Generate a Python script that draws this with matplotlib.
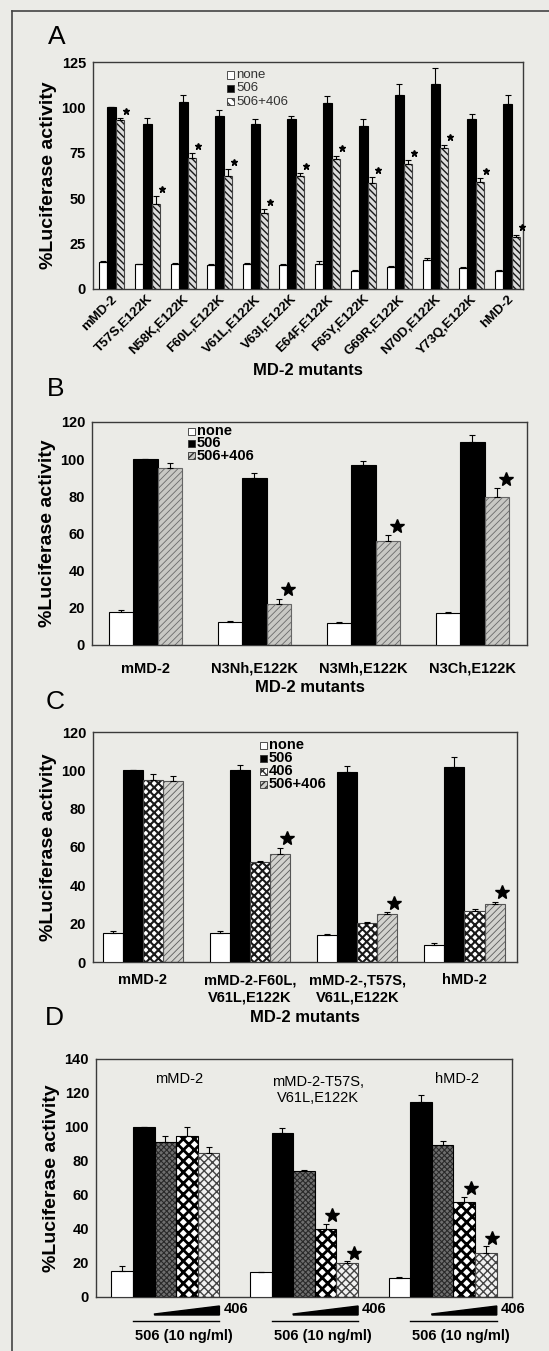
import numpy as np
import matplotlib
matplotlib.use('Agg')
import matplotlib.pyplot as plt
from matplotlib.patches import Rectangle, Polygon
from matplotlib.lines import Line2D

plt.rcParams['font.family'] = ['Liberation Sans', 'DejaVu Sans']
plt.rcParams['font.weight'] = 'bold'
plt.rcParams['axes.labelweight'] = 'bold'

# panel A: single point mutants
a_labels = ['mMD-2', 'T57S,E122K', 'N58K,E122K', 'F60L,E122K', 'V61L,E122K',
            'V63I,E122K', 'E64F,E122K', 'F65Y,E122K', 'G69R,E122K',
            'N70D,E122K', 'Y73Q,E122K', 'hMD-2']
a_none = [15, 13.5, 14, 13, 14, 13, 14, 10, 12, 16, 11.5, 10]
a_none_err = [0.5, 0.5, 0.5, 0.5, 0.5, 0.5, 1.5, 0.5, 0.5, 1, 0.5, 0.5]
a_506 = [100, 91, 103, 95.5, 91, 93.5, 102.5, 90, 107, 113, 93.5, 102]
a_506_err = [0, 3, 4, 3, 2.5, 2, 4, 3.5, 6, 8.5, 2.7, 5]
a_mix = [93, 47, 72, 62, 42, 62, 71.5, 58.5, 69, 77.5, 59, 28.5]
a_mix_err = [1, 4, 3, 4, 2, 2, 2, 3, 2, 2, 2, 1.5]

# panel B: chimeras
b_labels = ['mMD-2', 'N3Nh,E122K', 'N3Mh,E122K', 'N3Ch,E122K']
b_none = [18, 12.5, 12, 17]
b_none_err = [0.8, 0.6, 0.5, 0.5]
b_506 = [100, 90, 97, 109]
b_506_err = [0, 2.8, 2, 4]
b_mix = [95, 22, 56, 79.5]
b_mix_err = [3, 3, 3, 5]
b_star = [False, True, True, True]

# panel C: triple mutants
c_labels = ['mMD-2', 'mMD-2-F60L,\nV61L,E122K', 'mMD-2-,T57S,\nV61L,E122K', 'hMD-2']
c_none = [15, 15, 14, 9]
c_none_err = [1, 1, 0.5, 1]
c_506 = [100, 100, 99, 102]
c_506_err = [0, 3, 3.5, 5]
c_406 = [95, 52, 20.5, 26.5]
c_406_err = [3, 0.5, 0.5, 1]
c_mix = [94.5, 56.5, 25, 30.5]
c_mix_err = [2.5, 3, 1, 1]
c_star = [False, True, True, True]

# panel D: 406 titration
d_groups = ['mMD-2', 'mMD-2-T57S,\nV61L,E122K', 'hMD-2']
d_none = [15.5, 14.5, 11]
d_none_err = [2.5, 0.5, 0.5]
d_506 = [100, 96.5, 115]
d_506_err = [0, 3, 4]
d_low = [91, 74, 89.5]
d_low_err = [3.5, 0.8, 2.5]
d_mid = [94.5, 40, 56]
d_mid_err = [5.5, 3, 3]
d_high = [84.5, 20, 26]
d_high_err = [4, 1, 4]
d_star = [False, True, True]

BG = '#ebebe7'
W, H = 549, 1351
fig = plt.figure(figsize=(W / 100, H / 100), dpi=100, facecolor=BG)


def box(x0, y0, x1, y1):
    return [x0 / W, 1 - y1 / H, (x1 - x0) / W, (y1 - y0) / H]


def bars(ax, x, vals, errs, width, face, hatch=None, hcolor='black', hlw=1.0,
         edge='black'):
    if hatch:
        with plt.rc_context({'hatch.linewidth': hlw}):
            hb = ax.bar(x, vals, width, color=face, edgecolor=hcolor, hatch=hatch,
                        linewidth=0, zorder=2)
            for p in hb:
                if hasattr(p, 'set_hatch_linewidth'):
                    p.set_hatch_linewidth(hlw)
        ax.bar(x, vals, width, fill=False, edgecolor=edge, linewidth=0.8, zorder=3)
    else:
        ax.bar(x, vals, width, color=face, edgecolor=edge, linewidth=0.8, zorder=3)
    ax.errorbar(x, vals, yerr=[np.zeros(len(vals)), errs], fmt='none',
                ecolor='black', elinewidth=0.8, capsize=2, capthick=0.8, zorder=4)


def style(ax, ymax, step):
    ax.set_facecolor(BG)
    ax.set_ylim(0, ymax)
    ax.set_yticks(np.arange(0, ymax + 1, step))
    ax.tick_params(axis='both', length=0, labelsize=10.5, pad=5)
    for s in ax.spines.values():
        s.set_color('#3a3a3a')
        s.set_linewidth(1.0)
    ax.set_ylabel('%Luciferase activity', fontsize=14, labelpad=3)


def key(x, y, step, labels, specs, size=9, weight='bold', color='black'):
    for i, (lab, (face, hatch)) in enumerate(zip(labels, specs)):
        yy = y + i * step
        r = Rectangle((x / W, 1 - (yy + 3.5) / H), 7 / W, 7 / H,
                      transform=fig.transFigure, facecolor=face, hatch=hatch,
                      edgecolor='#333333', linewidth=0.6, zorder=10)
        fig.patches.append(r)
        fig.text((x + 9) / W, 1 - yy / H, lab, fontsize=size, weight=weight,
                 color=color, va='center', ha='left')


def stars(ax, x, tops, flags, size):
    xs = [xi for xi, f in zip(x, flags) if f]
    ys = [t for t, f in zip(tops, flags) if f]
    ax.plot(xs, ys, ls='none', marker='*', color='black', ms=size, zorder=5,
            clip_on=False)


# ---- A ----
ax = fig.add_axes(box(93, 62, 523, 289))
x = np.arange(len(a_labels))
w = 0.23
bars(ax, x - w, a_none, a_none_err, w, 'white')
bars(ax, x, a_506, a_506_err, w, 'black')
bars(ax, x + w, a_mix, a_mix_err, w, '#dcdcdc', hatch='\\\\\\\\\\', hcolor='#1a1a1a', hlw=1.0,
     edge='#444444')
stars(ax, x + 1.75 * w, np.array(a_mix) + np.array(a_mix_err) + 4, [True] * 12, 5)
style(ax, 125, 25)
ax.set_xlim(-0.51, 11.43)
ax.set_xticks(x + 0.1)
ax.set_xticklabels(a_labels, rotation=45, ha='right', va='center',
                   rotation_mode='anchor', fontsize=9.5)
ax.tick_params(axis='x', pad=6)
ax.set_xlabel('MD-2 mutants', fontsize=12, labelpad=4)
key(227, 75, 13.3, ['none', '506', '506+406'],
    [('white', None), ('black', None), ('white', '\\\\\\\\')],
    size=9.5, weight='normal', color='#333333')

# ---- B ----
ax = fig.add_axes(box(92, 422, 527, 645))
x = np.arange(len(b_labels))
w = 0.225
bars(ax, x - w, b_none, b_none_err, w, 'white')
bars(ax, x, b_506, b_506_err, w, 'black')
bars(ax, x + w, b_mix, b_mix_err, w, '#c8c8c4', hatch='/////', hcolor='#6a6a6a', hlw=0.6,
     edge='#666666')
stars(ax, x + 1.35 * w, np.array(b_mix) + np.array(b_mix_err) + 5, b_star, 10)
style(ax, 120, 20)
ax.set_xlim(-0.49, 3.5)
ax.set_xticks(x)
ax.set_xticklabels(b_labels, fontsize=10.5)
ax.tick_params(axis='x', pad=12)
ax.set_xlabel('MD-2 mutants', fontsize=12, labelpad=3)
key(188, 431, 12.4, ['none', '506', '506+406'],
    [('white', None), ('black', None), ('#c8c8c4', '/////')], size=10.5)

# ---- C ----
ax = fig.add_axes(box(93, 732, 517, 962))
x = np.arange(len(c_labels))
w = 0.187
bars(ax, x - 1.5 * w, c_none, c_none_err, w, 'white')
bars(ax, x - 0.5 * w, c_506, c_506_err, w, 'black')
bars(ax, x + 0.5 * w, c_406, c_406_err, w, 'white', hatch='xxxx', hcolor='#1a1a1a', hlw=1.5,
     edge='#444444')
bars(ax, x + 1.5 * w, c_mix, c_mix_err, w, '#d2d2ce', hatch='/////', hcolor='#5a5a5a', hlw=0.6,
     edge='#555555')
stars(ax, x + 1.85 * w, np.array(c_mix) + np.array(c_mix_err) + 5, c_star, 10)
style(ax, 120, 20)
ax.set_xlim(-0.466, 3.49)
ax.set_xticks(x)
ax.set_xticklabels(c_labels, fontsize=10.5, linespacing=1.3)
ax.tick_params(axis='x', pad=8)
ax.set_xlabel('MD-2 mutants', fontsize=12, labelpad=4)
key(260, 745, 13, ['none', '506', '406', '506+406'],
    [('white', None), ('black', None), ('white', 'xxxx'), ('#d2d2ce', '/////')],
    size=10.5)

# ---- D ----
top, bot = 1059, 1297
ax = fig.add_axes(box(96, top, 512, bot))
x = np.arange(len(d_groups))
w = 0.156
bars(ax, x - 2 * w, d_none, d_none_err, w, 'white')
bars(ax, x - w, d_506, d_506_err, w, 'black')
bars(ax, x, d_low, d_low_err, w, '#6e6e6e', hatch='xxxxxx', hcolor='#2a2a2a', hlw=0.8)
bars(ax, x + w, d_mid, d_mid_err, w, 'white', hatch='xxx', hcolor='black', hlw=2.0)
bars(ax, x + 2 * w, d_high, d_high_err, w, '#f2f2f2', hatch='xxxx', hcolor='#444444', hlw=1.0,
     edge='#444444')
stars(ax, x + 1.3 * w, np.array(d_mid) + np.array(d_mid_err) + 5, d_star, 10)
stars(ax, x + 2.3 * w, np.array(d_high) + np.array(d_high_err) + 5, d_star, 10)
style(ax, 140, 20)
ax.set_xlim(-0.5, 2.5)
ax.set_xticks([])
for xi, name in zip(x, d_groups):
    ax.text(xi + 0.1, 128 if '\n' not in name else 122, name, ha='center', va='center',
            fontsize=10.5, weight='normal', linespacing=1.2)

# titration wedge, 506 bracket and labels under each group
hpx = bot - top
trans = ax.get_xaxis_transform()
for xi in x:
    xl, xr = xi - 0.5 * w, xi + 2.5 * w
    yb = -18 / hpx
    ax.add_patch(Polygon([(xl, yb), (xr, yb), (xr, yb + 9 / hpx), (xl, yb + 1 / hpx)],
                         closed=True, transform=trans, color='black', clip_on=False))
    ax.text(xr + 0.03, -12 / hpx, '406', transform=trans, ha='left', va='center',
            fontsize=10.5)
    ax.add_line(Line2D([xi - 1.5 * w, xr], [-24 / hpx] * 2, transform=trans,
                       color='black', lw=1.0, clip_on=False))
    ax.text(xi + 0.85 * w, -39 / hpx, '506 (10 ng/ml)', transform=trans,
            ha='center', va='center', fontsize=10.5)

# panel letters
for lab, (px, py) in zip('ABCD', [(57, 37), (56, 389), (55, 702), (54, 1018)]):
    fig.text(px / W, 1 - py / H, lab, fontsize=19, weight='normal',
             ha='center', va='center')

# frame edges along the left and top
for xs, ys in [([12, 12], [11, H]), ([12, W], [11, 11])]:
    fig.add_artist(Line2D([v / W for v in xs], [1 - v / H for v in ys],
                          transform=fig.transFigure, color='#444444', lw=1.2))

fig.savefig('out.png', dpi=100, facecolor=BG)
